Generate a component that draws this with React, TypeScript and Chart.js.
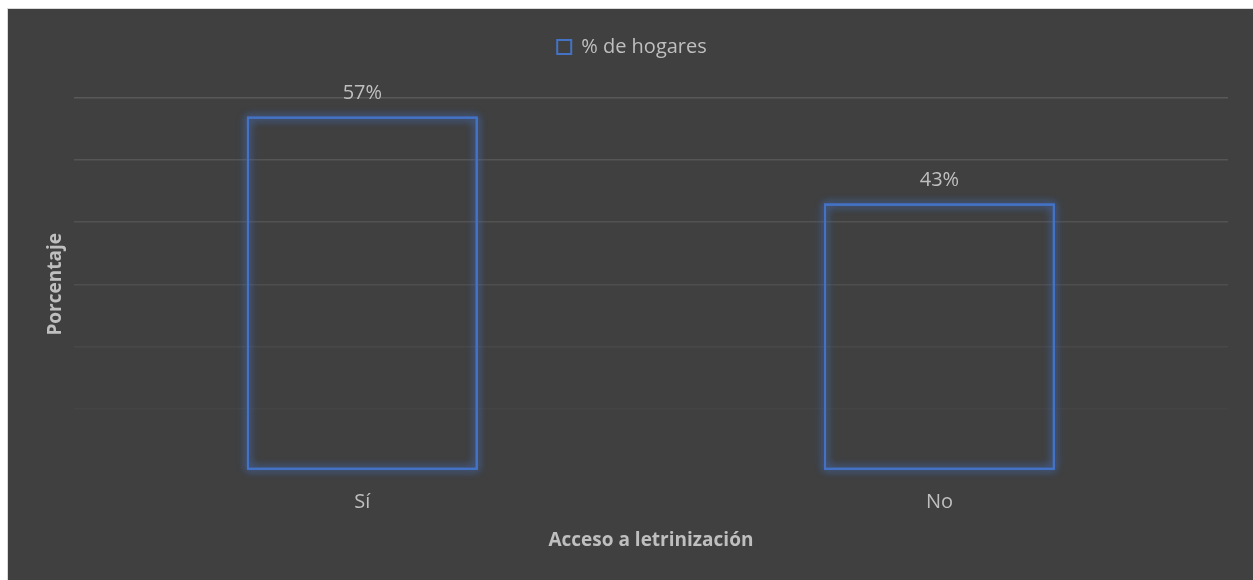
import React, { useEffect, useRef } from "react";
import { Chart, registerables } from "chart.js";

Chart.register(...registerables);

const categories = ["Sí", "No"];
const seriesName = "% de hogares";
const values = [57, 43];
const yTicks = [0, 10, 20, 30, 40, 50, 60];
const gridColors = ["rgba(0,0,0,0)", "#444444", "#484848", "#4e4e4e", "#525252", "#555555", "#595959"];

const FONT = "'Open Sans', 'Noto Sans', sans-serif";
const TEXT = "#bfbfbf";
const BLUE = "#4472c4";

export default function App() {
  const ref = useRef<HTMLCanvasElement | null>(null);

  useEffect(() => {
    document.body.style.margin = "0";
    const canvas = ref.current;
    if (!canvas) return;

    const legendSpace = {
      id: "legendSpace",
      beforeInit(chart: any) {
        if (!chart.legend) return;
        const origFit = chart.legend.fit;
        chart.legend.fit = function () {
          origFit.call(this);
          this.height += 31;
        };
      },
    };

    const glow = {
      id: "glow",
      beforeDatasetsDraw(chart: any) {
        const c = chart.ctx;
        const meta = chart.getDatasetMeta(0);
        c.save();
        c.shadowColor = "rgba(68,114,196,0.9)";
        c.shadowBlur = 8;
        c.strokeStyle = BLUE;
        c.lineWidth = 2;
        meta.data.forEach((el: any) => {
          const { x, y, base, width } = el.getProps(["x", "y", "base", "width"], true);
          const top = Math.min(y, base);
          const h = Math.abs(base - y);
          c.strokeRect(x - width / 2 + 1, top + 1, width - 2, h - 2);
          c.strokeRect(x - width / 2 + 1, top + 1, width - 2, h - 2);
        });
        c.restore();
      },
    };

    const labels = {
      id: "dataLabels",
      afterDatasetsDraw(chart: any) {
        const c = chart.ctx;
        const meta = chart.getDatasetMeta(0);
        c.save();
        c.font = `20px ${FONT}`;
        c.fillStyle = TEXT;
        c.textAlign = "center";
        c.textBaseline = "alphabetic";
        meta.data.forEach((el: any, i: number) => {
          c.fillText(`${values[i]}%`, el.x, el.y - 18);
        });
        c.restore();
      },
    };

    const chart = new Chart(canvas, {
      type: "bar",
      data: {
        labels: categories,
        datasets: [
          {
            label: seriesName,
            data: values,
            backgroundColor: "rgba(0,0,0,0)",
            borderColor: BLUE,
            borderWidth: 2,
            borderSkipped: false,
            barPercentage: 0.4,
            categoryPercentage: 1,
          },
        ],
      },
      options: {
        animation: false,
        responsive: false,
        maintainAspectRatio: false,
        layout: { padding: { left: 28, right: 25, top: 18, bottom: 20 } },
        plugins: {
          tooltip: { enabled: false },
          legend: {
            display: true,
            position: "top",
            labels: {
              color: TEXT,
              font: { family: FONT, size: 20 },
              boxWidth: 14,
              boxHeight: 14,
              padding: 10,
            },
          },
        },
        scales: {
          x: {
            grid: { display: false },
            border: { display: false },
            ticks: { color: TEXT, font: { family: FONT, size: 20 }, padding: 12 },
            title: {
              display: true,
              text: "Acceso a letrinización",
              color: TEXT,
              font: { family: FONT, size: 19, weight: "bold" },
              padding: { top: 3, bottom: 7.6 },
            },
          },
          y: {
            min: 0,
            max: 60,
            afterBuildTicks(scale: any) {
              scale.ticks = yTicks.map((v) => ({ value: v }));
            },
            grid: {
              drawTicks: false,
              lineWidth: 1.5,
              color: (ctx: any) => {
                const idx = yTicks.indexOf(ctx.tick ? ctx.tick.value : -1);
                return idx >= 0 ? gridColors[idx] : "rgba(0,0,0,0)";
              },
            },
            border: { display: false },
            ticks: { display: false },
            title: {
              display: true,
              text: "Porcentaje",
              color: TEXT,
              font: { family: FONT, size: 19, weight: "bold" },
              padding: { top: 8, bottom: 7 },
            },
          },
        },
      },
      plugins: [legendSpace, glow, labels],
    });

    return () => chart.destroy();
  }, []);

  return (
    <div
      style={{
        position: "absolute",
        left: 7,
        top: 8,
        borderLeft: "1px solid #d9d9d9",
        borderTop: "1px solid #d9d9d9",
        background: "#404040",
        width: 1246,
        height: 572,
      }}
    >
      <canvas ref={ref} width={1245} height={571} style={{ display: "block", width: 1245, height: 571 }} />
    </div>
  );
}
